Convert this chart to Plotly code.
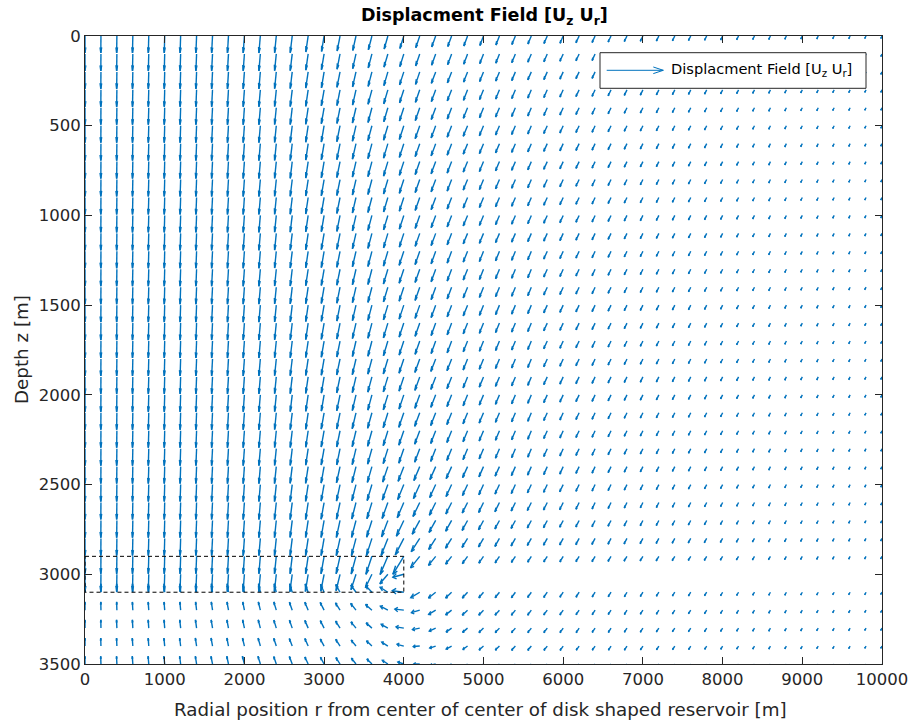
import plotly.graph_objects as go

# Grid of the displacement field: radial position r [m] and depth z [m]
R_M = list(range(0, 10001, 200))
Z_M = list(range(0, 3501, 100))

# Vertical displacement U_z [mm] (positive = downwards), one row per depth in Z_M
UZ_MM = [
    [68,68,68,68,68,68,68,68,68,68,68,68,67,67,64,62,60,58,55,52,50,47,44,42,40,38,36,34,32,30,29,27,26,24,22,21,20,19,18,17,16,15,14,14,13,12,12,11,11,10,10],  # z=0
    [68,68,68,68,68,68,68,68,68,68,68,68,67,67,65,63,61,59,56,53,51,48,45,43,41,39,37,35,33,31,29,27,26,24,22,21,20,19,18,17,16,15,14,14,13,12,12,11,11,10,10],  # z=100
    [68,68,68,68,68,68,68,68,68,68,68,68,67,67,65,64,62,60,58,55,52,50,46,44,41,39,37,35,32,31,29,27,26,24,22,21,20,19,18,17,16,15,14,14,13,12,12,11,11,10,10],  # z=200
    [68,68,68,68,68,68,68,68,68,68,68,68,67,67,66,64,63,61,58,56,52,50,47,44,42,39,37,35,33,31,29,27,26,24,22,21,20,19,18,17,16,15,14,14,13,12,12,11,11,10,10],  # z=300
    [68,68,68,68,68,68,68,68,68,68,68,68,67,67,66,64,63,61,59,56,53,51,47,45,42,40,37,35,33,31,29,27,26,24,22,21,20,19,18,17,16,15,14,14,13,12,12,11,11,10,10],  # z=400
    [68,68,68,68,68,68,68,68,68,68,68,68,67,67,66,65,64,62,60,58,55,52,49,46,42,40,37,35,33,31,29,27,26,24,22,21,20,19,18,17,16,15,14,14,13,12,12,11,11,10,10],  # z=500
    [68,68,68,68,68,68,68,68,68,68,68,68,67,67,66,65,64,62,60,58,55,52,49,46,42,40,37,35,33,31,29,27,26,24,22,21,20,19,18,17,16,15,14,14,13,12,12,11,11,10,10],  # z=600
    [68,68,68,68,68,68,68,68,68,68,68,68,67,67,66,65,64,62,60,58,55,52,49,46,42,40,37,35,33,31,29,27,26,24,22,21,20,19,18,17,16,15,14,14,13,12,12,11,11,10,10],  # z=700
    [68,68,68,68,68,68,68,68,68,68,68,68,67,67,66,65,64,62,60,58,55,52,49,46,42,40,37,35,33,31,29,27,26,24,22,21,20,19,18,17,16,15,14,14,13,12,12,11,11,10,10],  # z=800
    [68,68,68,68,68,68,68,68,68,68,68,68,67,67,66,65,64,62,60,58,55,52,49,46,42,40,37,35,33,31,29,27,26,24,22,21,20,19,18,17,16,15,14,14,13,12,12,11,11,10,10],  # z=900
    [68,68,68,68,68,68,68,68,68,68,68,68,67,67,66,65,64,62,60,58,55,52,49,46,42,40,37,35,33,31,29,27,26,24,22,21,20,19,18,17,16,15,14,14,13,12,12,11,11,10,10],  # z=1000
    [68,68,68,68,68,68,68,68,68,68,68,68,67,67,66,65,64,62,60,58,55,52,49,46,42,40,37,35,33,31,29,27,26,24,22,21,20,19,18,17,16,15,14,14,13,12,12,11,11,10,10],  # z=1100
    [68,68,68,68,68,68,68,68,68,68,68,68,67,67,66,65,64,62,61,59,56,53,50,47,43,41,38,36,34,31,29,27,26,24,22,21,20,19,18,17,16,15,14,14,13,12,12,11,11,10,10],  # z=1200
    [68,68,68,68,68,68,68,68,68,68,68,68,67,67,66,65,64,62,61,59,56,53,50,47,43,41,38,36,34,31,29,27,26,24,22,21,20,19,18,17,16,15,14,14,13,12,12,11,11,10,10],  # z=1300
    [68,68,68,68,68,68,68,68,68,68,68,68,67,67,66,65,64,62,61,59,56,53,50,47,43,41,38,36,34,31,29,27,26,24,22,21,20,19,18,17,16,15,14,14,13,12,12,11,11,10,10],  # z=1400
    [68,68,68,68,68,68,68,68,68,68,68,68,67,67,66,65,64,62,61,59,56,53,50,47,43,41,38,36,34,31,29,27,26,24,22,21,20,19,18,17,16,15,14,14,13,12,12,11,11,10,10],  # z=1500
    [68,68,68,68,68,68,68,68,68,68,68,68,67,67,66,65,64,62,61,59,56,53,50,47,43,41,38,36,34,31,29,27,26,24,22,21,20,19,18,17,16,15,14,14,13,12,12,11,11,10,10],  # z=1600
    [68,68,68,68,68,68,68,68,68,68,68,68,67,67,66,65,64,62,61,59,56,53,50,47,43,41,38,36,34,31,29,27,26,24,22,21,20,19,18,17,16,15,14,14,13,12,12,11,11,10,10],  # z=1700
    [68,68,68,68,68,68,68,68,68,68,68,68,67,67,66,65,64,63,61,60,57,54,50,47,44,41,38,36,34,31,29,27,26,24,22,21,20,19,18,17,16,15,14,14,13,12,12,11,11,10,10],  # z=1800
    [68,68,68,68,68,68,68,68,68,68,68,68,67,67,66,65,64,63,61,60,57,54,50,47,44,41,38,36,34,31,29,27,26,24,22,21,20,19,18,17,16,15,14,14,13,12,12,11,11,10,10],  # z=1900
    [68,68,68,68,68,68,68,68,68,68,68,68,67,67,66,65,64,63,61,60,57,54,50,47,44,41,38,36,34,31,29,27,26,24,22,21,20,19,18,17,16,15,14,14,13,12,12,11,11,10,10],  # z=2000
    [68,68,68,68,68,68,68,68,68,68,68,68,67,67,66,65,65,64,62,60,58,54,51,47,44,41,38,36,34,31,29,27,26,24,22,21,20,19,18,17,16,15,14,14,13,12,12,11,11,10,10],  # z=2100
    [68,68,68,68,68,68,68,68,68,68,68,68,67,67,66,65,65,64,62,60,58,54,51,47,44,41,38,36,34,31,29,27,26,24,22,21,20,19,18,17,16,15,14,14,13,12,12,11,11,10,10],  # z=2200
    [68,68,68,68,68,68,68,68,68,68,68,68,67,67,66,65,65,64,62,60,58,54,51,47,44,41,38,36,34,31,29,27,26,24,22,21,20,19,18,17,16,15,14,14,13,12,12,11,11,10,10],  # z=2300
    [68,68,68,68,68,68,68,68,68,68,68,68,68,67,67,66,65,64,63,62,59,56,52,48,44,41,38,36,34,32,30,27,26,24,22,21,20,19,18,17,16,15,14,14,13,12,12,11,11,10,10],  # z=2400
    [68,68,68,68,68,68,68,68,68,68,68,68,68,68,67,66,66,65,64,62,60,56,52,48,44,41,38,36,33,31,29,27,26,24,22,21,20,19,18,17,16,15,14,14,13,12,12,11,11,10,10],  # z=2500
    [68,68,68,68,68,68,68,68,68,68,68,68,68,68,68,67,67,66,65,64,61,56,51,46,42,40,37,34,32,30,29,27,26,24,22,21,20,19,18,17,16,15,14,14,13,12,12,11,11,10,10],  # z=2600
    [69,69,69,69,69,69,69,69,69,69,69,69,69,68,68,68,68,68,67,66,63,55,48,43,40,37,34,32,30,29,27,26,25,23,22,21,20,19,18,17,16,15,14,14,13,12,12,11,11,10,10],  # z=2700
    [69,69,69,69,69,69,69,69,69,69,69,69,69,69,69,69,69,69,69,69,66,53,44,39,36,34,32,30,28,27,26,25,24,23,22,21,20,19,18,17,16,15,14,14,13,12,12,11,11,10,10],  # z=2800
    [70,70,70,70,70,70,70,70,70,70,70,70,70,70,70,70,70,71,72,73,72,46,36,31,29,27,26,24,23,22,22,21,21,20,19,18,18,17,16,16,15,14,14,13,13,12,12,11,11,10,10],  # z=2900
    [70,70,70,70,70,70,70,70,70,70,70,70,70,70,69,68,66,62,54,38,12,None,None,None,None,None,None,None,None,None,None,None,None,None,None,None,None,None,None,None,None,None,None,None,None,None,None,None,None,None,None],  # z=3000
    [-34,-34,-34,-34,-34,-34,-34,-34,-34,-34,-34,-34,-34,-34,-33,-32,-31,-29,-26,-20,-6,22,23,23,23,22,22,22,21,21,20,20,19,18,18,17,16,15,15,14,14,13,12,12,12,11,11,10,10,10,9],  # z=3100
    [-33,-33,-33,-33,-33,-33,-33,-33,-33,-33,-33,-33,-33,-32,-32,-31,-29,-27,-23,-16,-4,10,17,19,20,20,20,20,20,19,19,18,18,17,17,16,16,15,14,14,13,13,12,12,11,11,10,10,10,9,9],  # z=3200
    [-33,-33,-33,-33,-33,-33,-33,-33,-33,-33,-33,-33,-32,-32,-31,-30,-28,-25,-21,-15,-5,6,12,16,17,18,18,18,18,18,18,18,17,17,16,16,15,14,14,14,13,12,12,12,11,11,10,10,10,9,9],  # z=3300
    [-32,-32,-32,-32,-32,-32,-32,-32,-32,-32,-32,-32,-31,-30,-30,-28,-27,-24,-21,-16,-7,2,8,12,14,16,16,17,17,17,17,16,16,16,16,15,15,14,14,13,13,12,12,12,11,11,10,10,10,9,9],  # z=3400
    [-31,-31,-31,-31,-31,-31,-31,-31,-31,-31,-31,-31,-30,-30,-28,-27,-26,-23,-20,-15,-8,0,5,9,12,13,14,15,15,16,16,16,15,15,15,14,14,14,13,13,12,12,12,11,11,10,10,10,10,9,9],  # z=3500
]

# Radial displacement U_r [mm] (negative = towards the reservoir axis)
UR_MM = [
    [0,-1,-2,-3,-4,-4,-5,-6,-8,-9,-11,-13,-15,-18,-21,-23,-26,-29,-32,-33,-35,-36,-36,-35,-34,-33,-32,-32,-31,-30,-29,-29,-27,-26,-24,-23,-22,-21,-20,-19,-18,-17,-16,-15,-14,-14,-13,-13,-12,-12,-11],  # z=0
    [0,-1,-2,-3,-4,-4,-5,-6,-8,-9,-11,-13,-15,-18,-21,-24,-27,-30,-33,-35,-36,-37,-37,-36,-35,-34,-33,-33,-32,-31,-30,-29,-27,-26,-24,-23,-22,-21,-20,-19,-18,-17,-16,-15,-14,-14,-13,-13,-12,-12,-11],  # z=100
    [0,-1,-2,-3,-4,-4,-5,-6,-8,-9,-11,-13,-15,-18,-22,-24,-28,-31,-34,-36,-38,-38,-39,-38,-36,-35,-34,-33,-32,-31,-30,-29,-27,-26,-24,-23,-22,-21,-20,-19,-18,-17,-16,-15,-14,-14,-13,-13,-12,-12,-11],  # z=200
    [0,-1,-2,-3,-4,-4,-5,-6,-8,-9,-11,-13,-15,-18,-22,-25,-28,-31,-35,-37,-38,-39,-39,-39,-37,-36,-34,-33,-32,-31,-30,-29,-27,-26,-24,-23,-22,-21,-20,-19,-18,-17,-16,-15,-14,-14,-13,-13,-12,-12,-11],  # z=300
    [0,-1,-2,-3,-4,-4,-5,-6,-8,-9,-11,-13,-15,-18,-22,-25,-28,-32,-35,-37,-39,-40,-40,-39,-38,-36,-35,-34,-32,-31,-30,-29,-27,-26,-24,-23,-22,-21,-20,-19,-18,-17,-16,-15,-14,-14,-13,-13,-12,-12,-11],  # z=400
    [0,-1,-2,-3,-4,-4,-5,-6,-8,-9,-11,-13,-15,-18,-22,-25,-29,-32,-36,-39,-40,-41,-41,-40,-39,-37,-35,-34,-32,-32,-30,-29,-27,-26,-24,-23,-22,-21,-20,-19,-18,-17,-16,-15,-14,-14,-13,-13,-12,-12,-11],  # z=500
    [0,-1,-2,-3,-4,-4,-5,-6,-8,-9,-11,-13,-15,-18,-22,-25,-29,-32,-36,-39,-40,-41,-41,-40,-39,-37,-35,-34,-32,-32,-30,-29,-27,-26,-24,-23,-22,-21,-20,-19,-18,-17,-16,-15,-14,-14,-13,-13,-12,-12,-11],  # z=600
    [0,-1,-2,-3,-4,-4,-5,-6,-8,-9,-11,-13,-15,-18,-22,-25,-29,-32,-36,-39,-40,-41,-41,-40,-39,-37,-35,-34,-32,-32,-30,-29,-27,-26,-24,-23,-22,-21,-20,-19,-18,-17,-16,-15,-14,-14,-13,-13,-12,-12,-11],  # z=700
    [0,-1,-2,-3,-4,-4,-5,-6,-8,-9,-11,-13,-15,-18,-22,-25,-29,-32,-36,-39,-40,-41,-41,-40,-39,-37,-35,-34,-32,-32,-30,-29,-27,-26,-24,-23,-22,-21,-20,-19,-18,-17,-16,-15,-14,-14,-13,-13,-12,-12,-11],  # z=800
    [0,-1,-2,-3,-4,-4,-5,-6,-8,-9,-11,-13,-15,-18,-22,-25,-29,-32,-36,-39,-40,-41,-41,-40,-39,-37,-35,-34,-32,-32,-30,-29,-27,-26,-24,-23,-22,-21,-20,-19,-18,-17,-16,-15,-14,-14,-13,-13,-12,-12,-11],  # z=900
    [0,-1,-2,-3,-4,-4,-5,-6,-8,-9,-11,-13,-15,-18,-22,-25,-29,-32,-36,-39,-40,-41,-41,-40,-39,-37,-35,-34,-32,-32,-30,-29,-27,-26,-24,-23,-22,-21,-20,-19,-18,-17,-16,-15,-14,-14,-13,-13,-12,-12,-11],  # z=1000
    [0,-1,-2,-3,-4,-4,-5,-6,-8,-9,-11,-13,-15,-18,-22,-25,-29,-32,-36,-39,-40,-41,-41,-40,-39,-37,-35,-34,-32,-32,-30,-29,-27,-26,-24,-23,-22,-21,-20,-19,-18,-17,-16,-15,-14,-14,-13,-13,-12,-12,-11],  # z=1100
    [0,-1,-2,-3,-4,-4,-5,-6,-8,-9,-11,-13,-15,-18,-22,-25,-29,-32,-36,-40,-42,-42,-41,-40,-39,-37,-35,-34,-32,-32,-30,-29,-27,-26,-24,-23,-22,-21,-20,-19,-18,-17,-16,-15,-14,-14,-13,-13,-12,-12,-11],  # z=1200
    [0,-1,-2,-3,-4,-4,-5,-6,-8,-9,-11,-13,-15,-18,-22,-25,-29,-32,-36,-40,-42,-42,-41,-40,-39,-37,-35,-34,-32,-32,-30,-29,-27,-26,-24,-23,-22,-21,-20,-19,-18,-17,-16,-15,-14,-14,-13,-13,-12,-12,-11],  # z=1300
    [0,-1,-2,-3,-4,-4,-5,-6,-8,-9,-11,-13,-15,-18,-22,-25,-29,-32,-36,-40,-42,-42,-41,-40,-39,-37,-35,-34,-32,-32,-30,-29,-27,-26,-24,-23,-22,-21,-20,-19,-18,-17,-16,-15,-14,-14,-13,-13,-12,-12,-11],  # z=1400
    [0,-1,-2,-3,-4,-4,-5,-6,-8,-9,-11,-13,-15,-18,-22,-25,-29,-32,-36,-40,-42,-42,-41,-40,-39,-37,-35,-34,-32,-32,-30,-29,-27,-26,-24,-23,-22,-21,-20,-19,-18,-17,-16,-15,-14,-14,-13,-13,-12,-12,-11],  # z=1500
    [0,-1,-2,-3,-4,-4,-5,-6,-8,-9,-11,-13,-15,-18,-22,-25,-29,-32,-36,-40,-42,-42,-41,-40,-39,-37,-35,-34,-32,-32,-30,-29,-27,-26,-24,-23,-22,-21,-20,-19,-18,-17,-16,-15,-14,-14,-13,-13,-12,-12,-11],  # z=1600
    [0,-1,-2,-3,-4,-4,-5,-6,-8,-9,-11,-13,-15,-18,-22,-25,-29,-32,-36,-40,-42,-42,-41,-40,-39,-37,-35,-34,-32,-32,-30,-29,-27,-26,-24,-23,-22,-21,-20,-19,-18,-17,-16,-15,-14,-14,-13,-13,-12,-12,-11],  # z=1700
    [0,-1,-2,-3,-4,-4,-5,-6,-8,-9,-11,-13,-15,-18,-22,-25,-30,-33,-37,-41,-43,-44,-44,-42,-40,-38,-36,-34,-32,-32,-30,-29,-27,-26,-24,-23,-22,-21,-20,-19,-18,-17,-16,-15,-14,-14,-13,-13,-12,-12,-11],  # z=1800
    [0,-1,-2,-3,-4,-4,-5,-6,-8,-9,-11,-13,-15,-18,-22,-25,-30,-33,-37,-41,-43,-44,-44,-42,-40,-38,-36,-34,-32,-32,-30,-29,-27,-26,-24,-23,-22,-21,-20,-19,-18,-17,-16,-15,-14,-14,-13,-13,-12,-12,-11],  # z=1900
    [0,-1,-2,-3,-4,-4,-5,-6,-8,-9,-11,-13,-15,-18,-22,-25,-30,-33,-37,-41,-43,-44,-44,-42,-40,-38,-36,-34,-32,-32,-30,-29,-27,-26,-24,-23,-22,-21,-20,-19,-18,-17,-16,-15,-14,-14,-13,-13,-12,-12,-11],  # z=2000
    [0,-1,-2,-3,-4,-4,-5,-6,-8,-9,-11,-13,-15,-18,-22,-26,-30,-34,-39,-42,-45,-46,-45,-43,-41,-39,-36,-34,-32,-32,-30,-29,-27,-26,-24,-23,-22,-21,-20,-19,-18,-17,-16,-15,-14,-14,-13,-13,-12,-12,-11],  # z=2100
    [0,-1,-2,-3,-4,-4,-5,-6,-8,-9,-11,-13,-15,-18,-22,-26,-30,-34,-39,-42,-45,-46,-45,-43,-41,-39,-36,-34,-32,-32,-30,-29,-27,-26,-24,-23,-22,-21,-20,-19,-18,-17,-16,-15,-14,-14,-13,-13,-12,-12,-11],  # z=2200
    [0,-1,-2,-3,-4,-4,-5,-6,-8,-9,-11,-13,-15,-18,-22,-26,-30,-34,-39,-42,-45,-46,-45,-43,-41,-39,-36,-34,-32,-32,-30,-29,-27,-26,-24,-23,-22,-21,-20,-19,-18,-17,-16,-15,-14,-14,-13,-13,-12,-12,-11],  # z=2300
    [0,-1,-2,-3,-4,-4,-5,-6,-8,-9,-11,-13,-16,-19,-23,-27,-32,-36,-41,-47,-51,-53,-52,-49,-45,-41,-39,-36,-34,-32,-31,-29,-27,-26,-24,-23,-22,-21,-20,-19,-18,-17,-16,-15,-14,-14,-13,-13,-12,-12,-11],  # z=2400
    [0,-1,-2,-3,-4,-4,-5,-6,-8,-9,-11,-13,-16,-19,-23,-27,-32,-37,-43,-50,-55,-57,-54,-50,-46,-42,-40,-37,-35,-33,-32,-29,-27,-26,-24,-23,-22,-21,-20,-19,-18,-17,-16,-15,-14,-14,-13,-13,-12,-12,-11],  # z=2500
    [0,-1,-2,-3,-4,-4,-5,-6,-8,-9,-11,-13,-16,-19,-23,-27,-32,-38,-45,-52,-59,-61,-57,-52,-48,-44,-41,-38,-36,-34,-32,-29,-27,-26,-24,-23,-22,-21,-20,-19,-18,-17,-16,-15,-14,-14,-13,-13,-12,-12,-11],  # z=2600
    [0,-1,-2,-3,-4,-4,-5,-6,-8,-9,-11,-13,-16,-19,-23,-27,-33,-40,-48,-57,-67,-68,-60,-54,-49,-45,-41,-39,-36,-34,-32,-30,-28,-27,-25,-24,-23,-22,-21,-20,-19,-18,-17,-16,-15,-14,-14,-13,-13,-12,-12],  # z=2700
    [0,-1,-2,-3,-4,-4,-5,-6,-8,-9,-11,-13,-16,-19,-23,-27,-34,-41,-50,-61,-77,-77,-63,-55,-50,-45,-41,-39,-36,-34,-32,-30,-29,-27,-26,-25,-24,-23,-22,-21,-20,-19,-18,-17,-16,-15,-14,-14,-13,-13,-12],  # z=2800
    [0,-1,-2,-3,-4,-4,-5,-6,-8,-9,-11,-13,-16,-19,-23,-28,-35,-43,-54,-70,-99,-83,-65,-54,-47,-42,-39,-36,-33,-32,-30,-29,-28,-27,-26,-25,-24,-23,-22,-21,-20,-19,-18,-17,-16,-15,-14,-14,-13,-13,-12],  # z=2900
    [0,-1,-2,-3,-4,-5,-6,-7,-8,-10,-12,-14,-17,-21,-25,-30,-36,-45,-59,-72,-99,None,None,None,None,None,None,None,None,None,None,None,None,None,None,None,None,None,None,None,None,None,None,None,None,None,None,None,None,None,None],  # z=3000
    [0,-1,-2,-3,-4,-5,-6,-8,-10,-12,-14,-16,-19,-23,-27,-32,-39,-46,-56,-70,-104,-81,-65,-54,-47,-42,-39,-36,-33,-32,-30,-28,-26,-25,-23,-23,-22,-21,-20,-19,-18,-17,-16,-15,-14,-14,-14,-13,-13,-12,-12],  # z=3100
    [0,-1,-2,-4,-5,-6,-7,-9,-11,-13,-15,-18,-22,-25,-30,-35,-41,-48,-57,-68,-81,-75,-63,-54,-48,-43,-40,-36,-33,-32,-30,-28,-26,-25,-23,-23,-22,-21,-20,-19,-18,-17,-16,-15,-14,-14,-14,-13,-13,-12,-12],  # z=3200
    [0,-1,-3,-4,-5,-6,-8,-10,-12,-14,-16,-19,-22,-25,-30,-34,-40,-45,-52,-60,-70,-66,-58,-50,-45,-41,-38,-35,-32,-31,-29,-27,-26,-24,-23,-23,-22,-21,-20,-19,-18,-17,-16,-15,-14,-14,-14,-13,-13,-12,-12],  # z=3300
    [0,-2,-3,-5,-5,-7,-9,-11,-13,-14,-17,-20,-23,-26,-30,-34,-39,-43,-49,-55,-61,-59,-54,-49,-43,-40,-37,-34,-32,-30,-28,-26,-25,-23,-23,-22,-21,-20,-19,-18,-17,-17,-16,-15,-14,-14,-14,-13,-13,-12,-12],  # z=3400
    [0,-2,-3,-5,-6,-8,-9,-11,-14,-15,-18,-21,-23,-26,-30,-33,-37,-41,-45,-50,-54,-54,-50,-46,-41,-38,-35,-32,-31,-29,-27,-26,-24,-23,-22,-21,-20,-19,-18,-18,-17,-16,-16,-15,-14,-14,-14,-13,-13,-12,-12],  # z=3500
]

# Reservoir outline: disk of radius 4000 m between 2900 m and 3100 m depth
RESERVOIR_R = [0, 4000]
RESERVOIR_Z = [2900, 3100]

X_TICKS = list(range(0, 10001, 1000))
X_TICK_TEXT = [str(v) for v in X_TICKS]
Y_TICKS = list(range(0, 3501, 500))
Y_TICK_TEXT = [str(v) for v in Y_TICKS]

TITLE = "<b>Displacment Field [U<sub>z</sub> U<sub>r</sub>]</b>"
LEGEND_TEXT = "Displacment Field [U<sub>z</sub> U<sub>r</sub>]"
X_LABEL = "Radial position r from center of center of disk shaped reservoir [m]"
Y_LABEL = "Depth z [m]"

ARROW_COLOR = "#0072BD"
AXIS_COLOR = "#262626"
FONT = "DejaVu Sans"

QUIVER_SCALE = 1.39   # metres of arrow per mm of displacement
HEAD_ALPHA = 0.33     # arrow-head length relative to the arrow
HEAD_BETA = 0.33      # arrow-head half width relative to the arrow

W, H = 912, 723
M_L, M_R, M_T, M_B = 85, 30, 36, 59
PW, PH = W - M_L - M_R, H - M_T - M_B


def px_x(px):
    return (px - M_L) / PW


def px_y(py):
    return (H - M_B - py) / PH


# Quiver: shaft plus two-barb head for every grid node
xs, ys = [], []
for zi, z in enumerate(Z_M):
    for ri, r in enumerate(R_M):
        ur = UR_MM[zi][ri]
        uz = UZ_MM[zi][ri]
        if ur is None or uz is None:
            continue
        u = ur * QUIVER_SCALE
        v = uz * QUIVER_SCALE
        tx, ty = r + u, z + v
        xs += [r, tx, None,
               tx - HEAD_ALPHA * (u + HEAD_BETA * v), tx, tx - HEAD_ALPHA * (u - HEAD_BETA * v), None]
        ys += [z, ty, None,
               ty - HEAD_ALPHA * (v - HEAD_BETA * u), ty, ty - HEAD_ALPHA * (v + HEAD_BETA * u), None]

fig = go.Figure()
fig.add_trace(go.Scatter(
    x=xs, y=ys, mode="lines",
    line=dict(color=ARROW_COLOR, width=1.4),
    hoverinfo="skip", showlegend=False,
))

shapes = [
    # reservoir outline
    dict(type="rect", xref="x", yref="y",
         x0=RESERVOIR_R[0], x1=RESERVOIR_R[1], y0=RESERVOIR_Z[0], y1=RESERVOIR_Z[1],
         line=dict(color="#000000", width=1, dash="4px,3px"), layer="above"),
    # legend box
    dict(type="rect", xref="paper", yref="paper",
         x0=px_x(600), x1=px_x(866), y0=px_y(88.3), y1=px_y(52.7),
         line=dict(color=AXIS_COLOR, width=1), fillcolor="white", layer="above"),
    # legend sample arrow
    dict(type="line", xref="paper", yref="paper",
         x0=px_x(606.7), x1=px_x(663.3), y0=px_y(70.3), y1=px_y(70.3),
         line=dict(color=ARROW_COLOR, width=1), layer="above"),
    dict(type="path", xref="paper", yref="paper",
         path="M {:.5f},{:.5f} L {:.5f},{:.5f} L {:.5f},{:.5f}".format(
             px_x(653.3), px_y(67.0), px_x(663.3), px_y(70.3), px_x(653.3), px_y(73.6)),
         line=dict(color=ARROW_COLOR, width=1), layer="above"),
]

annotations = [
    dict(text=TITLE, xref="paper", yref="paper", x=px_x(484), y=px_y(16),
         xanchor="center", yanchor="middle", showarrow=False,
         font=dict(family=FONT, size=17.5, color="#000000")),
    dict(text=LEGEND_TEXT, xref="paper", yref="paper", x=px_x(669), y=px_y(69),
         xanchor="left", yanchor="middle", showarrow=False,
         font=dict(family=FONT, size=14.6, color="#000000")),
    dict(text=X_LABEL, xref="paper", yref="paper", x=px_x(480), y=px_y(709),
         xanchor="center", yanchor="middle", showarrow=False,
         font=dict(family=FONT, size=18.3, color=AXIS_COLOR)),
    dict(text=Y_LABEL, xref="paper", yref="paper", x=px_x(21), y=px_y(350),
         xanchor="center", yanchor="middle", showarrow=False, textangle=-90,
         font=dict(family=FONT, size=18.3, color=AXIS_COLOR)),
]

axis_common = dict(
    ticks="inside", ticklen=7, tickwidth=1, tickcolor=AXIS_COLOR,
    showline=True, linecolor=AXIS_COLOR, linewidth=1, mirror="ticks",
    showgrid=False, zeroline=False, automargin=False,
    tickfont=dict(family=FONT, size=16.5, color=AXIS_COLOR),
)

fig.update_layout(
    width=W, height=H,
    margin=dict(l=M_L, r=M_R, t=M_T, b=M_B, pad=0, autoexpand=False),
    paper_bgcolor="white", plot_bgcolor="white",
    xaxis=dict(range=[0, 10000], tickmode="array", tickvals=X_TICKS, ticktext=X_TICK_TEXT, **axis_common),
    yaxis=dict(range=[3500, 0], tickmode="array", tickvals=Y_TICKS, ticktext=Y_TICK_TEXT, **axis_common),
    shapes=shapes, annotations=annotations,
    showlegend=False,
)

fig.write_html("out.html")
